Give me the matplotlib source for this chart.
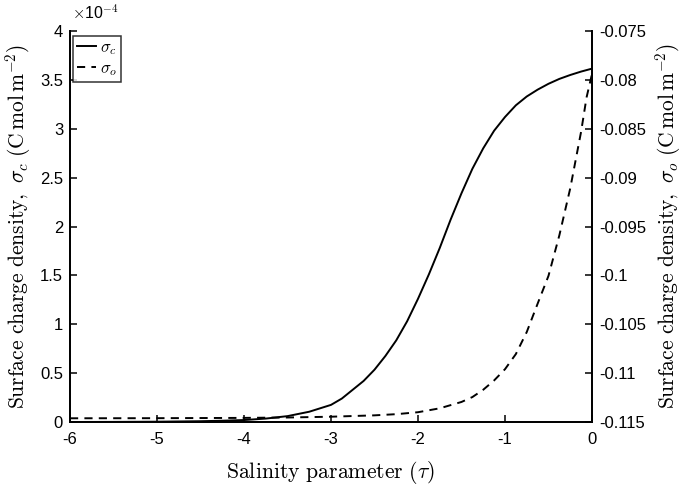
import matplotlib
matplotlib.use("Agg")
import matplotlib.pyplot as plt
from matplotlib.ticker import FixedLocator, FixedFormatter

plt.rcParams['axes.unicode_minus'] = False
plt.rcParams['mathtext.fontset'] = 'cm'
plt.rcParams['font.family'] = ['Liberation Sans', 'DejaVu Sans']

# Salinity parameter tau for sigma_c
tau_c = [-6.0, -5.5, -5.0, -4.5, -4.25, -4.0, -3.75, -3.5, -3.25, -3.0, -2.875,
         -2.75, -2.625, -2.5, -2.375, -2.25, -2.125, -2.0, -1.875, -1.75, -1.625,
         -1.5, -1.375, -1.25, -1.125, -1.0, -0.875, -0.75, -0.625, -0.5, -0.375,
         -0.25, -0.125, 0.0]
# sigma_c in units of 1e-4 C mol m^-2
sigma_c = [0.0, 0.001, 0.003, 0.008, 0.013, 0.02, 0.035, 0.06, 0.105, 0.175, 0.24,
           0.33, 0.42, 0.535, 0.675, 0.835, 1.03, 1.26, 1.51, 1.78, 2.07,
           2.34, 2.59, 2.80, 2.98, 3.12, 3.24, 3.33, 3.40, 3.46, 3.51,
           3.55, 3.585, 3.615]

# Salinity parameter tau for sigma_o
tau_o = [-6.0, -5.0, -4.0, -3.5, -3.0, -2.5, -2.25, -2.0, -1.75, -1.5, -1.375,
         -1.25, -1.125, -1.0, -0.875, -0.75, -0.625, -0.5, -0.375, -0.25,
         -0.125, -0.0625, 0.0]
# sigma_o in C mol m^-2
sigma_o = [-0.11462, -0.11461, -0.11458, -0.11454, -0.11446, -0.11432, -0.11420,
           -0.11400, -0.11360, -0.11295, -0.11245, -0.11170, -0.11075, -0.10960,
           -0.10805, -0.10580, -0.10290, -0.10005, -0.09590, -0.09110,
           -0.08530, -0.08180, -0.07940]

x_ticks = [-6, -5, -4, -3, -2, -1, 0]
yl_ticks = [0, 0.5, 1, 1.5, 2, 2.5, 3, 3.5, 4]
yl_labels = ['0', '0.5', '1', '1.5', '2', '2.5', '3', '3.5', '4']
yr_ticks = [-0.115, -0.11, -0.105, -0.1, -0.095, -0.09, -0.085, -0.08, -0.075]
yr_labels = ['-0.115', '-0.11', '-0.105', '-0.1', '-0.095', '-0.09', '-0.085', '-0.08', '-0.075']

fig = plt.figure(figsize=(6.85, 4.86), dpi=100)
ax = fig.add_axes([0.1022, 0.1317, 0.762, 0.8045])
ax2 = ax.twinx()

l1, = ax.plot(tau_c, sigma_c, color='black', lw=1.4, label=r'$\sigma_c$')
l2, = ax2.plot(tau_o, sigma_o, color='black', lw=1.4, linestyle=(0, (4.2, 3.2)), label=r'$\sigma_o$')

ax.set_xlim(-6, 0)
ax.set_ylim(0, 4)
ax2.set_ylim(-0.115, -0.075)

ax.set_xticks(x_ticks)
ax.set_xticklabels([str(t) for t in x_ticks])
ax.yaxis.set_major_locator(FixedLocator(yl_ticks))
ax.yaxis.set_major_formatter(FixedFormatter(yl_labels))
ax2.yaxis.set_major_locator(FixedLocator(yr_ticks))
ax2.yaxis.set_major_formatter(FixedFormatter(yr_labels))

for a in (ax, ax2):
    a.spines['top'].set_visible(False)
    for s in a.spines.values():
        s.set_linewidth(1.3)
    a.tick_params(direction='in', length=5, width=1.1, labelsize=12, pad=5)
ax.tick_params(axis='x', pad=7)

ax.set_xlabel(r'$\mathrm{Salinity\ parameter\ }(\tau)$', fontsize=15.7, labelpad=9)
ax.set_ylabel(r'$\mathrm{Surface\ charge\ density,\ }\sigma_c\ (\mathrm{C\,mol\,m^{-2}})$', fontsize=15.5, labelpad=5)
ax2.set_ylabel(r'$\mathrm{Surface\ charge\ density,\ }\sigma_o\ (\mathrm{C\,mol\,m^{-2}})$', fontsize=15.5, labelpad=5)

ax.text(0.003, 1.025, r'$\times$10$^{\mathsf{-4}}$', transform=ax.transAxes, fontsize=11.5,
        ha='left', va='bottom')

leg = ax.legend(handles=[l1, l2], loc='upper left', bbox_to_anchor=(0.006, 0.987),
                fontsize=12, frameon=True, fancybox=False, edgecolor='black',
                handlelength=1.15, handletextpad=0.2, borderpad=0.25, labelspacing=0.25,
                borderaxespad=0.0)
leg.get_frame().set_linewidth(1.1)

fig.savefig('out.png', dpi=100)
